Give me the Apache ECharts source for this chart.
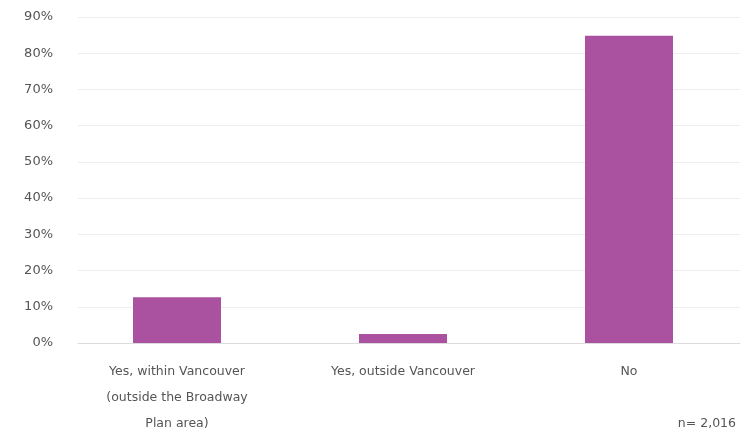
<!DOCTYPE html>
<html><head><meta charset="utf-8">
<script src="https://cdn.jsdelivr.net/npm/echarts@6/dist/echarts.min.js"></script>
<style>html,body{margin:0;padding:0;background:#fff}#c{width:746px;height:431px}</style>
</head><body><div id="c"></div>
<script>
const categories = ['Yes, within Vancouver\n(outside the Broadway\nPlan area)', 'Yes, outside Vancouver', 'No'];
const values = [12.6, 2.5, 84.8];
const yTicks = [0, 10, 20, 30, 40, 50, 60, 70, 80, 90];
const note = 'n= 2,016';

const chart = echarts.init(document.getElementById('c'), null, {renderer: 'canvas'});
const font = 'DejaVu Sans';
chart.setOption({
  animation: false,
  grid: [
    {left: 78, right: 6, top: 17, bottom: 88, containLabel: false, outerBoundsMode: 'none'},
    {left: 64, right: 4, top: 17, bottom: 88, containLabel: false, outerBoundsMode: 'none'}
  ],
  xAxis: [
    {type: 'category', gridIndex: 0, data: categories,
     axisLine: {lineStyle: {color: '#dcdcdc'}}, axisTick: {show: false}, axisLabel: {show: false}},
    {type: 'category', gridIndex: 1, data: categories,
     axisLine: {show: false}, axisTick: {show: false},
     axisLabel: {color: '#555', fontFamily: font, fontSize: 12.5, lineHeight: 26, margin: 16, interval: 0}}
  ],
  yAxis: [
    {type: 'value', gridIndex: 0, min: yTicks[0], max: yTicks[yTicks.length - 1], interval: 10,
     axisLabel: {formatter: '{value}%', color: '#555', fontFamily: font, fontSize: 13, margin: 25},
     splitLine: {lineStyle: {color: '#eeeeee'}}, axisLine: {show: false}, axisTick: {show: false}},
    {type: 'value', gridIndex: 1, min: yTicks[0], max: yTicks[yTicks.length - 1], interval: 10,
     show: false}
  ],
  series: [{
    type: 'bar', xAxisIndex: 1, yAxisIndex: 1, data: values, barWidth: 88,
    itemStyle: {color: '#aa52a0'}
  }],
  graphic: [{
    type: 'text', right: 10, top: 417,
    style: {text: note, fill: '#555', font: '12.5px "DejaVu Sans"'}
  }]
});
</script></body></html>
